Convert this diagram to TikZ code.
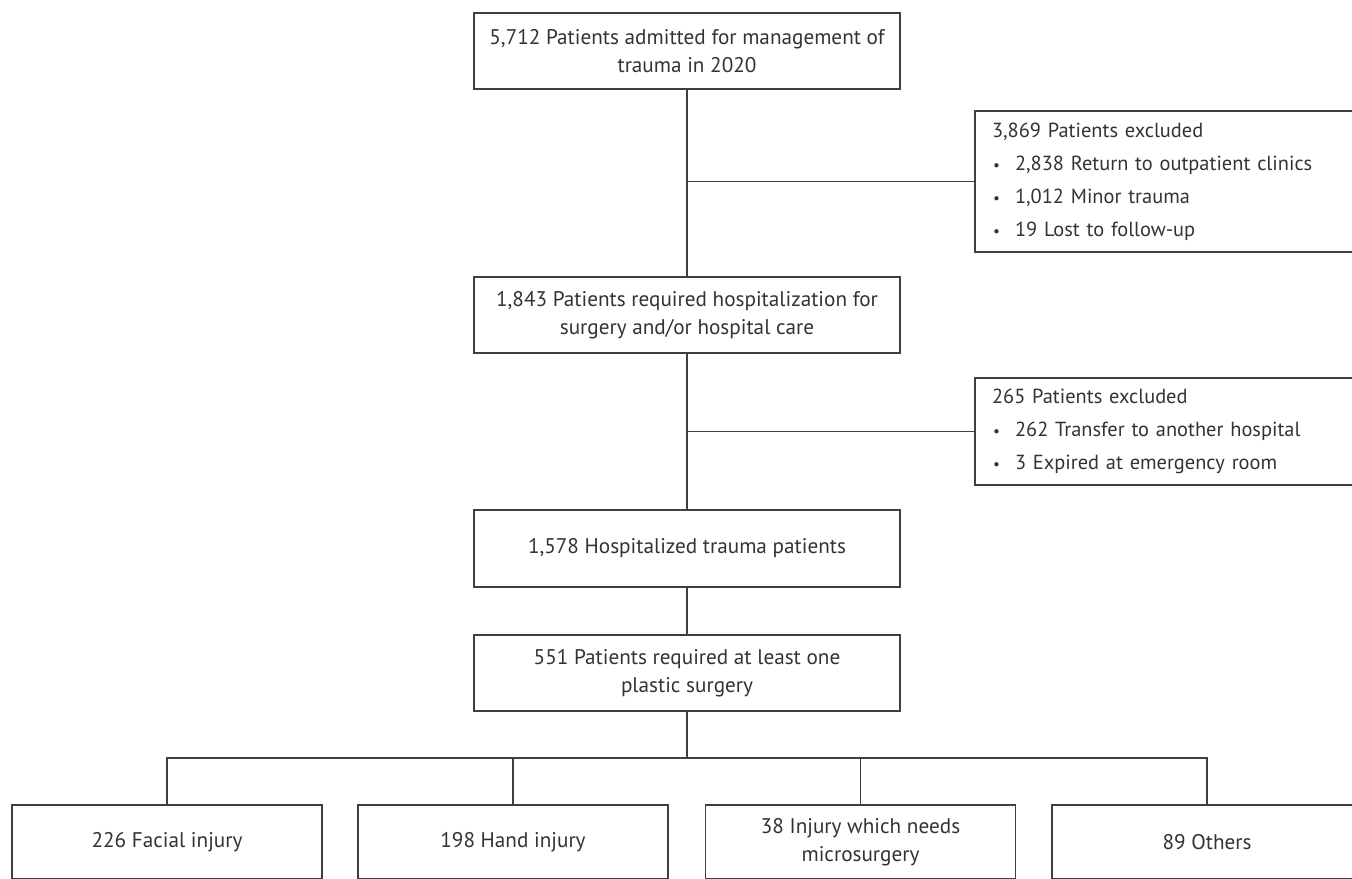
\documentclass[tikz,border=0pt]{standalone}
\usepackage{fontspec}
\setmainfont{PT Sans}
\definecolor{linec}{HTML}{404040}
\definecolor{txtc}{HTML}{333333}
\newcommand{\bl}{\makebox[11.5pt][l]{\hspace{0.5pt}\scalebox{0.75}{•}}}
\begin{document}
\begin{tikzpicture}[x=0.5pt,y=-0.5pt,
  box/.style={draw=linec, line width=0.75pt, text=txtc, inner sep=0pt, font=\fontsize{10.6}{14}\selectfont},
  mainbox/.style={box, align=center, minimum width=213pt, minimum height=38pt},
  exclbox/.style={box, align=left, text width=176.5pt, inner xsep=8.5pt, minimum width=193.5pt, font=\fontsize{10.2}{16.5}\selectfont},
  leafbox/.style={box, align=center, minimum width=155pt, minimum height=37pt},
  conn/.style={draw=linec, line width=0.75pt}]
\useasboundingbox (0,0) rectangle (1352,878);
\clip (0,0) rectangle (1352,878);
\fill[white] (0,0) rectangle (1352,878);
\node[mainbox] (a) at (687,51) {5,712 Patients admitted for management of\\trauma in 2020};
\node[mainbox] (b) at (687,315) {1,843 Patients required hospitalization for\\surgery and/or hospital care};
\node[mainbox, minimum height=38.5pt] (c) at (687,548.5) {1,578 Hospitalized trauma patients};
\node[mainbox] (d) at (687,673) {551 Patients required at least one\\plastic surgery};
\node[exclbox, minimum height=70.5pt] (e1) at (1168.5,181.5) {3,869 Patients excluded\\\bl 2,838 Return to outpatient clinics\\\bl 1,012 Minor trauma\\\bl 19 Lost to follow-up};
\node[exclbox, minimum height=53.5pt] (e2) at (1168.5,431.5) {265 Patients excluded\\\bl 262 Transfer to another hospital\\\bl 3 Expired at emergency room};
\node[leafbox] (f1) at (167,842) {226 Facial injury};
\node[leafbox] (f2) at (513,842) {198 Hand injury};
\node[leafbox] (f3) at (860.5,842) {38 Injury which needs\\microsurgery};
\node[leafbox] (f4) at (1207,842) {89 Others};
\coordinate (bus) at (687,758);
\draw[conn] (a.south) -- (b.north);
\draw[conn] (a.south |- e1.west) -- (e1.west);
\draw[conn] (b.south) -- (c.north);
\draw[conn] (b.south |- e2.west) -- (e2.west);
\draw[conn] (c.south) -- (d.north);
\draw[conn] (d.south) -- (bus);
\draw[conn] (f1.north) -- (f1.north |- bus) -- (f4.north |- bus) -- (f4.north);
\draw[conn] (f2.north) -- (f2.north |- bus);
\draw[conn] (f3.north) -- (f3.north |- bus);
\end{tikzpicture}
\end{document}
